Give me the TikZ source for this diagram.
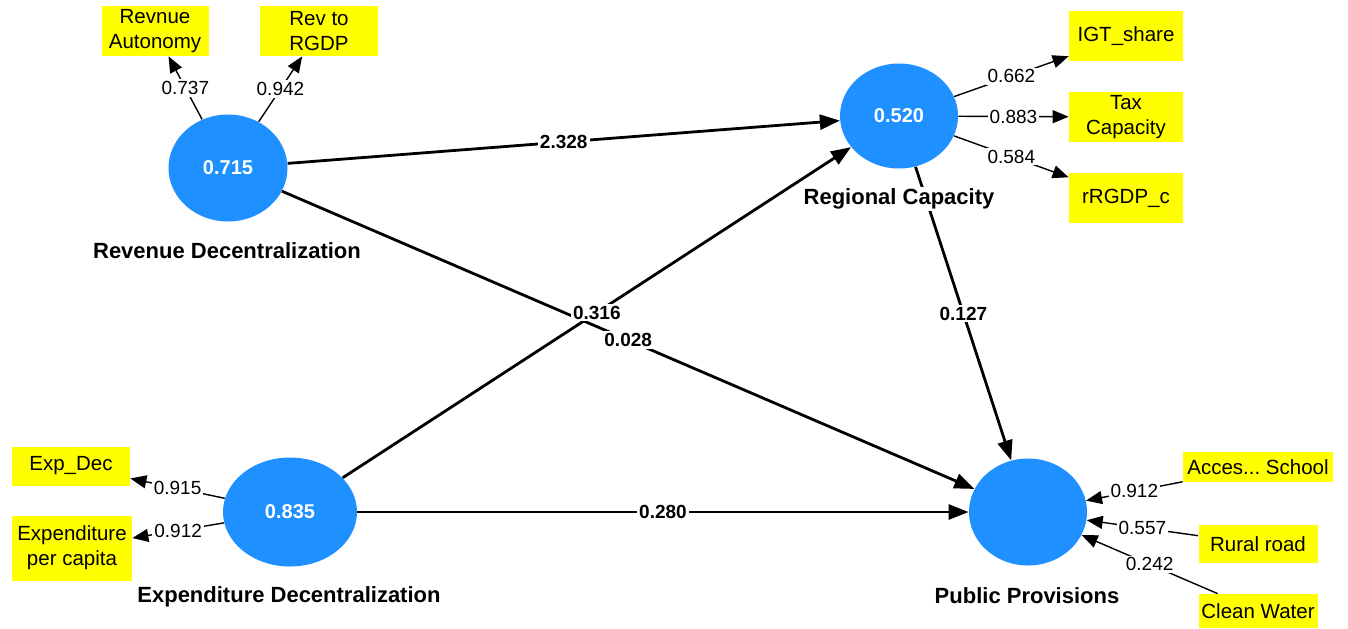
\documentclass[tikz,border=0pt]{standalone}
\usepackage{fontspec}
\setmainfont{Liberation Sans}
\usetikzlibrary{shapes.geometric, arrows.meta}
\definecolor{lvblue}{RGB}{30,144,255}
\definecolor{mvyellow}{RGB}{255,255,0}

\tikzset{
  latent/.style={ellipse, fill=lvblue, text=white, inner sep=0pt,
    font=\fontsize{10}{12}\selectfont\bfseries},
  indicator/.style={rectangle, fill=mvyellow, align=center, inner sep=0pt,
    font=\fontsize{10.25}{12.5}\selectfont},
  lvname/.style={fill=white, inner sep=1pt, font=\fontsize{11}{13}\selectfont\bfseries},
  structural/.style={line width=1.4pt, -{Triangle[length=10pt,width=7.5pt]}},
  loading/.style={line width=0.7pt, -{Triangle[length=8pt,width=6.5pt]}},
  coef/.style={midway, fill=white, inner sep=1pt, font=\fontsize{9.5}{11}\selectfont\bfseries},
  weight/.style={midway, fill=white, inner sep=1pt, font=\fontsize{9.5}{11}\selectfont}
}

\begin{document}
\begin{tikzpicture}[x=0.5pt, y=-0.5pt]
\useasboundingbox (0,0) rectangle (1348,628);

% latent variables
\node[latent, minimum width=59.5pt, minimum height=53.5pt] (rd) at (228,168) {0.715};
\node[latent, minimum width=59pt, minimum height=52.5pt] (rc) at (899,116) {0.520};
\node[latent, minimum width=67pt, minimum height=54.5pt] (ed) at (290,512) {0.835};
\node[latent, minimum width=59pt, minimum height=53.5pt] (pp) at (1028,512) {};

% indicators
\node[indicator, minimum width=53.5pt, minimum height=25pt] (ra) at (155,31) {Revnue\\Autonomy};
\node[indicator, minimum width=59pt, minimum height=25pt] (rr) at (319,31) {Rev to\\RGDP};
\node[indicator, minimum width=57pt, minimum height=25pt] (igt) at (1126,36) {IGT\_share};
\node[indicator, minimum width=57pt, minimum height=25pt] (tax) at (1126,117) {Tax\\Capacity};
\node[indicator, minimum width=57pt, minimum height=25pt] (rgdp) at (1126,198) {rRGDP\_c};
\node[indicator, minimum width=59pt, minimum height=19.5pt] (expdec) at (71,466) {Exp\_Dec};
\node[indicator, minimum width=60pt, minimum height=32.5pt] (exppc) at (72,548) {Expenditure\\per capita};
\node[indicator, minimum width=75pt, minimum height=15pt] (school) at (1258,467) {Acces...\ School};
\node[indicator, minimum width=59.5pt, minimum height=19pt] (road) at (1258,544) {Rural road};
\node[indicator, minimum width=59.5pt, minimum height=17pt] (water) at (1258,611) {Clean Water};

% outer model
\draw[loading] (rd) -- node[weight] {0.737} (ra);
\draw[loading] (rd) -- node[weight] {0.942} (rr);
\draw[loading] (rc) -- node[weight] {0.662} (igt);
\draw[loading] (rc) -- node[weight] {0.883} (tax);
\draw[loading] (rc) -- node[weight] {0.584} (rgdp);
\draw[loading] (ed) -- node[weight] {0.915} (expdec);
\draw[loading] (ed) -- node[weight] {0.912} (exppc);
\draw[loading] (school) -- node[weight] {0.912} (pp);
\draw[loading] (road) -- node[weight] {0.557} (pp);
\draw[loading] (water) -- node[weight] {0.242} (pp);

% inner model
\draw[structural] (rd) -- node[coef] {2.328} (rc);
\draw[structural] (rd) -- node[coef] {0.028} (pp);
\draw[structural] (ed) -- node[coef] {0.316} (rc);
\draw[structural] (ed) -- node[coef] {0.280} (pp);
\draw[structural] (rc) -- node[coef] {0.127} (pp);

% construct names
\node[lvname] (rdname) at (227,251) {Revenue Decentralization};
\node[lvname] (rcname) at (899,199) {Regional Capacity};
\node[lvname] (edname) at (289,597) {Expenditure Decentralization};
\node[lvname] (ppname) at (1027,596) {Public Provisions};
\end{tikzpicture}
\end{document}
